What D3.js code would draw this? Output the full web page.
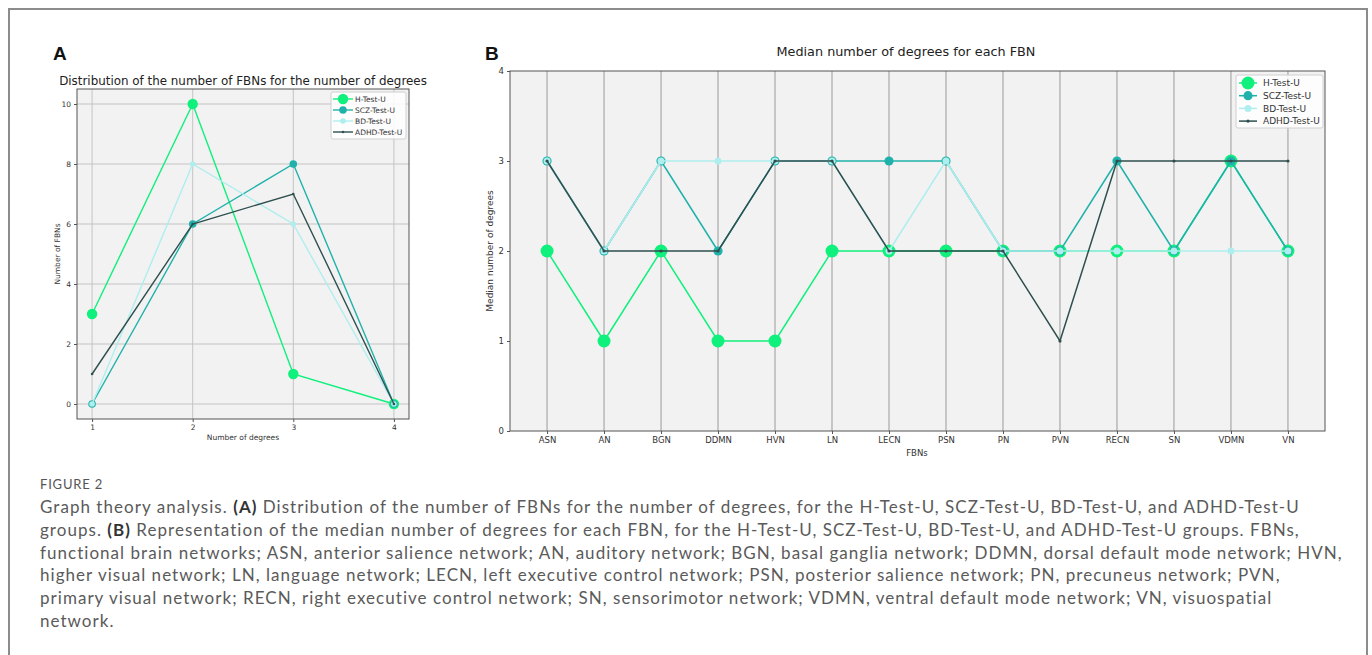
<!DOCTYPE html>
<html>
<head>
<meta charset="utf-8">
<script src="https://cdn.jsdelivr.net/npm/d3@7"></script>
<style>
  body { margin: 0; background: #fff; }
  svg text { font-family: "DejaVu Sans", sans-serif; }
</style>
</head>
<body>
<svg id="fig" width="1372" height="655"></svg>
<script>
// panel A data: number of FBNs per degree
var degrees = [1, 2, 3, 4];
var aH    = [3, 10, 1, 0];
var aSCZ  = [0, 6, 8, 0];
var aBD   = [0, 8, 6, 0];
var aADHD = [1, 6, 7, 0];

// panel B data: median degree per FBN
var fbns = ["ASN", "AN", "BGN", "DDMN", "HVN", "LN", "LECN", "PSN", "PN", "PVN", "RECN", "SN", "VDMN", "VN"];
var bH    = [2, 1, 2, 1, 1, 2, 2, 2, 2, 2, 2, 2, 3, 2];
var bSCZ  = [3, 2, 3, 2, 3, 3, 3, 3, 2, 2, 3, 2, 3, 2];
var bBD   = [3, 2, 3, 3, 3, 3, 2, 3, 2, 2, 2, 2, 2, 2];
var bADHD = [3, 2, 2, 2, 3, 3, 2, 2, 2, 1, 3, 3, 3, 3];

var groupNames = ["H-Test-U", "SCZ-Test-U", "BD-Test-U", "ADHD-Test-U"];
var groupColors = ["#0ff07c", "#20b2aa", "#afeeee", "#2f4f4f"];

var yTicksA = [0, 2, 4, 6, 8, 10];
var yTicksB = [0, 1, 2, 3, 4];

var captionLines = [
  [["Graph theory analysis. ", 0], ["(A)", 1], [" Distribution of the number of FBNs for the number of degrees, for the H-Test-U, SCZ-Test-U, BD-Test-U, and ADHD-Test-U", 0]],
  [["groups. ", 0], ["(B)", 1], [" Representation of the median number of degrees for each FBN, for the H-Test-U, SCZ-Test-U, BD-Test-U, and ADHD-Test-U groups. FBNs,", 0]],
  [["functional brain networks; ASN, anterior salience network; AN, auditory network; BGN, basal ganglia network; DDMN, dorsal default mode network; HVN,", 0]],
  [["higher visual network; LN, language network; LECN, left executive control network; PSN, posterior salience network; PN, precuneus network; PVN,", 0]],
  [["primary visual network; RECN, right executive control network; SN, sensorimotor network; VDMN, ventral default mode network; VN, visuospatial", 0]],
  [["network.", 0]]
];

var svg = d3.select("#fig");

// outer figure frame
svg.append("rect")
  .attr("x", 9).attr("y", 9)
  .attr("width", 1358).attr("height", 720)
  .attr("fill", "none")
  .attr("stroke", "#8c8c8c")
  .attr("stroke-width", 2);

function drawPanel(opt) {
  var g = svg.append("g");
  var x = opt.x, y = opt.y;
  var x0 = opt.box[0], x1 = opt.box[1], y0 = opt.box[2], y1 = opt.box[3];

  g.append("rect")
    .attr("x", x0).attr("y", y0)
    .attr("width", x1 - x0).attr("height", y1 - y0)
    .attr("fill", "#f2f2f2");

  // grid
  g.selectAll(".vg").data(opt.xTicks).enter().append("line")
    .attr("x1", function(d){ return x(d); }).attr("x2", function(d){ return x(d); })
    .attr("y1", y0).attr("y2", y1)
    .attr("stroke", opt.gridColor).attr("stroke-width", 1);
  if (opt.hGrid) {
    g.selectAll(".hg").data(opt.yTicks).enter().append("line")
      .attr("x1", x0).attr("x2", x1)
      .attr("y1", function(d){ return y(d); }).attr("y2", function(d){ return y(d); })
      .attr("stroke", opt.gridColor).attr("stroke-width", 1);
  }

  // axes
  var bottom = d3.axisBottom(x).tickValues(opt.xTicks).tickSize(3).tickPadding(3);
  if (x.ticks) bottom.tickFormat(d3.format("d"));
  var ax = g.append("g").attr("transform", "translate(0," + y1 + ")").call(bottom);
  var ay = g.append("g").attr("transform", "translate(" + x0 + ",0)")
    .call(d3.axisLeft(y).tickValues(opt.yTicks).tickFormat(d3.format("d")).tickSize(3).tickPadding(3));
  [ax, ay].forEach(function(a) {
    a.select(".domain").remove();
    a.selectAll("line").attr("stroke", "#555");
    a.selectAll("text").attr("font-size", opt.tickFont).attr("fill", "#333")
      .style("font-family", "DejaVu Sans");
  });

  // series
  opt.series.forEach(function(s, i) {
    var pts = s.map(function(v, j) { return [x(opt.xTicks[j]), y(v)]; });
    g.append("path")
      .attr("d", d3.line()(pts))
      .attr("fill", "none")
      .attr("stroke", groupColors[i])
      .attr("stroke-width", opt.lineW);
    g.selectAll(".m" + i).data(pts).enter().append("circle")
      .attr("cx", function(d){ return d[0]; })
      .attr("cy", function(d){ return d[1]; })
      .attr("r", opt.radii[i])
      .attr("fill", groupColors[i]);
  });

  // frame
  g.append("rect")
    .attr("x", x0).attr("y", y0)
    .attr("width", x1 - x0).attr("height", y1 - y0)
    .attr("fill", "none").attr("stroke", "#555").attr("stroke-width", 1);

  // legend
  var L = opt.legend;
  g.append("rect")
    .attr("x", L.x).attr("y", L.y).attr("width", L.w).attr("height", L.h)
    .attr("rx", 2)
    .attr("fill", "#fff").attr("fill-opacity", 0.85)
    .attr("stroke", "#d0d0d0");
  groupNames.forEach(function(n, i) {
    var yy = L.y + L.first + i * L.step;
    g.append("line")
      .attr("x1", L.lx).attr("x2", L.lx + L.lw)
      .attr("y1", yy).attr("y2", yy)
      .attr("stroke", groupColors[i]).attr("stroke-width", opt.lineW);
    g.append("circle")
      .attr("cx", L.lx + L.lw / 2).attr("cy", yy)
      .attr("r", opt.radii[i]).attr("fill", groupColors[i]);
    g.append("text")
      .attr("x", L.tx).attr("y", yy)
      .attr("dy", "0.35em")
      .attr("font-size", L.font).attr("fill", "#333")
      .text(n);
  });

  // titles and labels
  g.append("text").attr("x", opt.title[1]).attr("y", opt.title[2])
    .attr("text-anchor", "middle").attr("font-size", opt.title[3]).attr("fill", "#222")
    .text(opt.title[0]);
  g.append("text").attr("x", opt.xLabel[1]).attr("y", opt.xLabel[2])
    .attr("text-anchor", "middle").attr("font-size", opt.xLabel[3]).attr("fill", "#333")
    .text(opt.xLabel[0]);
  g.append("text")
    .attr("transform", "translate(" + opt.yLabel[1] + "," + opt.yLabel[2] + ") rotate(-90)")
    .attr("text-anchor", "middle").attr("font-size", opt.yLabel[3]).attr("fill", "#333")
    .text(opt.yLabel[0]);
  g.append("text").attr("x", opt.letter[1]).attr("y", opt.letter[2])
    .attr("font-size", 19).attr("font-weight", "bold").attr("fill", "#111")
    .style("font-family", "Liberation Sans, Arial, sans-serif")
    .text(opt.letter[0]);
}

// panel A
var xA = d3.scaleLinear().domain([0.85, 4.15]).range([77, 409]);
var yA = d3.scaleLinear().domain([-0.5, 10.5]).range([419, 89]);
drawPanel({
  x: xA, y: yA, box: [77, 409, 89, 419],
  xTicks: degrees, yTicks: yTicksA, hGrid: true, gridColor: "#c4c4c4",
  tickFont: 7.5, lineW: 1.4, radii: [5.2, 3.8, 2.8, 1.3],
  series: [aH, aSCZ, aBD, aADHD],
  legend: { x: 331, y: 92, w: 75, h: 47, first: 7, step: 11, lx: 333, lw: 20, tx: 355, font: 7.5 },
  title: ["Distribution of the number of FBNs for the number of degrees", 243, 85, 11.9],
  xLabel: ["Number of degrees", 243, 440, 7.5],
  yLabel: ["Number of FBNs", 60, 254, 7.5],
  letter: ["A", 53, 60]
});

// panel B (categorical x)
var xB = d3.scalePoint().domain(fbns).range([510, 1325]).padding(0.65);
var yB = d3.scaleLinear().domain([0, 4]).range([431, 71]);
drawPanel({
  x: xB, y: yB, box: [510, 1325, 71, 431],
  xTicks: fbns, yTicks: yTicksB, hGrid: false, gridColor: "#9a9a9a",
  tickFont: 8.5, lineW: 1.5, radii: [6.5, 4.6, 3.5, 1.6],
  series: [bH, bSCZ, bBD, bADHD],
  legend: { x: 1236, y: 75, w: 87, h: 53, first: 8, step: 12.7, lx: 1239, lw: 18, tx: 1263, font: 9 },
  title: ["Median number of degrees for each FBN", 906, 56, 12.8],
  xLabel: ["FBNs", 917, 456, 8.5],
  yLabel: ["Median number of degrees", 493, 251, 9],
  letter: ["B", 485, 60]
});

// caption
svg.append("text")
  .attr("x", 40).attr("y", 489)
  .attr("font-size", 13).attr("fill", "#555")
  .attr("letter-spacing", 0.8)
  .style("font-family", "Lato, sans-serif")
  .text("FIGURE 2");

var capTexts = captionLines.map(function(line, i) {
  var t = svg.append("text")
    .attr("x", 40).attr("y", 513 + i * 22.8)
    .attr("font-size", 17).attr("fill", "#5a5a5a")
    .style("font-family", "Lato, sans-serif");
  line.forEach(function(p) {
    t.append("tspan")
      .attr("font-weight", p[1] ? "bold" : "normal")
      .attr("fill", p[1] ? "#333" : "#5a5a5a")
      .text(p[0]);
  });
  return t;
});

// widen letter spacing so the first caption line spans like the original
var first = capTexts[0];
var nChars = first.text().length;
var spacing = (1260 - first.node().getComputedTextLength()) / nChars;
capTexts.forEach(function(t) { t.attr("letter-spacing", spacing); });
</script>
</body>
</html>
